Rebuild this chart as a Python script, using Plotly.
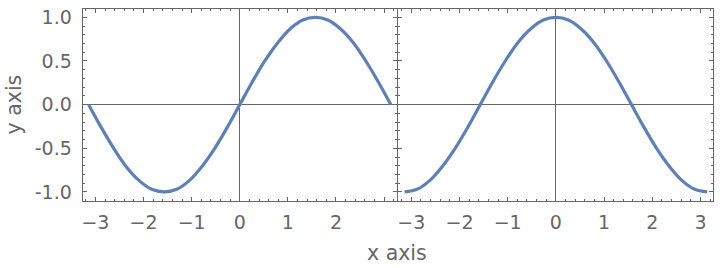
import plotly.graph_objects as go
from plotly.subplots import make_subplots

x_vals = [-3.14, -2.88, -2.62, -2.36, -2.09, -1.83, -1.57, -1.31, -1.05, -0.79, -0.52, -0.26,
          0.0, 0.26, 0.52, 0.79, 1.05, 1.31, 1.57, 1.83, 2.09, 2.36, 2.62, 2.88, 3.14]
left_y = [0.0, -0.26, -0.5, -0.71, -0.87, -0.97, -1.0, -0.97, -0.87, -0.71, -0.5, -0.26,
          0.0, 0.26, 0.5, 0.71, 0.87, 0.97, 1.0, 0.97, 0.87, 0.71, 0.5, 0.26, 0.0]
right_y = [-1.0, -0.97, -0.87, -0.71, -0.5, -0.26, 0.0, 0.26, 0.5, 0.71, 0.87, 0.97,
           1.0, 0.97, 0.87, 0.71, 0.5, 0.26, 0.0, -0.26, -0.5, -0.71, -0.87, -0.97, -1.0]

x_tickvals = [-3, -2, -1, 0, 1, 2, 3]
left_x_ticktext = ["−3", "−2", "−1", "0", "1", "2", ""]
right_x_ticktext = ["−3", "−2", "−1", "0", "1", "2", "3"]
y_tickvals = [-1.0, -0.5, 0.0, 0.5, 1.0]
y_ticktext = ["-1.0", "-0.5", "0.0", "0.5", "1.0"]

LINE = "#5E81B5"
FRAME = "#666666"
TXT = "#666666"
FONT = "DejaVu Sans"
W, H = 720, 268

fig = make_subplots(rows=1, cols=2)
fig.add_trace(go.Scatter(x=x_vals, y=left_y, mode="lines",
                         line=dict(color=LINE, width=3.2, shape="spline", smoothing=1.0)), 1, 1)
fig.add_trace(go.Scatter(x=x_vals, y=right_y, mode="lines",
                         line=dict(color=LINE, width=3.2, shape="spline", smoothing=1.0)), 1, 2)

common_x = dict(range=[-3.267, 3.267], showgrid=False, showline=True, linecolor=FRAME, linewidth=1,
                mirror="allticks", ticks="inside", ticklen=4, tickcolor=FRAME, tickwidth=1,
                zeroline=True, zerolinecolor=FRAME, zerolinewidth=1,
                tickvals=x_tickvals, tickfont=dict(family=FONT, size=19, color=TXT),
                ticklabelstandoff=5,
                minor=dict(dtick=0.2, tick0=0, ticks="inside", ticklen=2, tickcolor=FRAME))
common_y = dict(range=[-1.1, 1.1], showgrid=False, showline=True, linecolor=FRAME, linewidth=1,
                mirror="allticks", ticks="inside", ticklen=4, tickcolor=FRAME, tickwidth=1,
                zeroline=True, zerolinecolor=FRAME, zerolinewidth=1,
                tickvals=y_tickvals, ticktext=y_ticktext,
                tickfont=dict(family=FONT, size=19, color=TXT),
                minor=dict(dtick=0.1, tick0=0, ticks="inside", ticklen=2, tickcolor=FRAME),
                domain=[66.3 / H, 261.3 / H])

fig.update_xaxes(**common_x, ticktext=left_x_ticktext, domain=[81.7 / W, 396.5 / W], row=1, col=1)
fig.update_xaxes(**common_x, ticktext=right_x_ticktext, domain=[398.0 / W, 713.3 / W], row=1, col=2)
fig.update_yaxes(**common_y, showticklabels=True, ticklabelstandoff=6, row=1, col=1)
fig.update_yaxes(**common_y, showticklabels=False, row=1, col=2)

fig.add_annotation(text="x axis", x=396.5 / W, y=(H - 255) / H, xref="paper", yref="paper",
                   showarrow=False, xanchor="center", yanchor="middle",
                   font=dict(family=FONT, size=20.5, color=TXT))
fig.add_annotation(text="y axis", x=13 / W, y=(H - 104) / H, xref="paper", yref="paper",
                   showarrow=False, xanchor="center", yanchor="middle", textangle=-90,
                   font=dict(family=FONT, size=20.5, color=TXT))

fig.update_layout(width=W, height=H, margin=dict(l=0, r=0, t=0, b=0),
                  paper_bgcolor="white", plot_bgcolor="white", showlegend=False)

fig.write_html("out.html")
